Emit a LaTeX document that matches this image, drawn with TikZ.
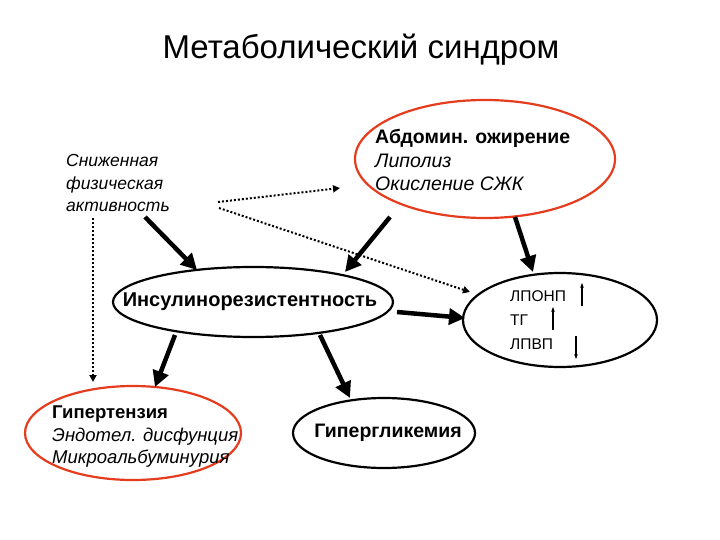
\documentclass[tikz,border=0pt]{standalone}
\usepackage{fontspec}
\setmainfont{Liberation Sans}
\usetikzlibrary{arrows.meta,shapes.geometric}
\definecolor{ovred}{RGB}{230,60,30}
\begin{document}
\begin{tikzpicture}[x=1pt,y=-1pt,
  ell/.style={draw,ellipse,line width=2.2pt,inner sep=0pt},
  redline/.style={draw=ovred},
  thickarr/.style={line width=4.5pt,-{Triangle[length=16pt,width=16pt]}},
  dotarr/.style={line width=2pt,dotted,-{Triangle[length=7pt,width=7pt]}},
  lbl/.style={align=left,anchor=west,inner sep=0pt}]
\useasboundingbox (0,0) rectangle (720,540);
\node (title) at (361,50) {\fontsize{33}{38}\selectfont Метаболический синдром};
\node[ell,redline,minimum width=260pt,minimum height=118pt] (abd) at (485,159) {};
\node[lbl,font=\fontsize{19.5}{23.5}\selectfont] (abdt) at (375,160) {\textbf{Абдомин. ожирение}\\\textit{Липолиз}\\\textit{Окисление СЖК}};
\node[lbl,font=\fontsize{17.5}{22.5}\selectfont\itshape] (phys) at (66,183) {Сниженная\\физическая\\активность};
\node[ell,minimum width=280pt,minimum height=70pt] (insE) at (253,302) {};
\node[font=\fontsize{20}{24}\selectfont\bfseries,inner sep=0pt] (ins) at (250,302) {Инсулинорезистентность};
\node[ell,minimum width=194pt,minimum height=94pt] (lipE) at (560,320) {};
\node[lbl,font=\fontsize{15.5}{24}\selectfont] (lip) at (510,320) {ЛПОНП\\ТГ\\ЛПВП};
\coordinate (u1) at (582,306); \coordinate (v1) at (582,283);
\coordinate (u2) at (553,330); \coordinate (v2) at (553,307);
\coordinate (u3) at (576,336); \coordinate (v3) at (576,359);
\foreach \i in {1,2,3} {\draw[line width=1.2pt,-{Stealth[length=5pt]}] (u\i)--(v\i);}
\node[ell,redline,minimum width=216pt,minimum height=94pt] (hypE) at (133,433) {};
\node[lbl,font=\fontsize{18.5}{22.5}\selectfont] (hyp) at (52,437) {\textbf{Гипертензия}\\\textit{Эндотел. дисфунция}\\\textit{Микроальбуминурия}};
\node[ell,minimum width=182pt,minimum height=70pt] (glyE) at (384,433) {};
\node[font=\fontsize{19.5}{24}\selectfont\bfseries,inner sep=0pt] (gly) at (388,433) {Гипергликемия};
\coordinate (a1) at (145,217); \coordinate (b1) at (197,270);
\coordinate (a2) at (390,217); \coordinate (b2) at (345,272);
\coordinate (a3) at (515,217); \coordinate (b3) at (533,272);
\coordinate (a4) at (397,312); \coordinate (b4) at (465,318);
\coordinate (a5) at (175,335); \coordinate (b5) at (155,387);
\coordinate (a6) at (320,335); \coordinate (b6) at (350,398);
\foreach \i in {1,...,6} {\draw[thickarr] (a\i)--(b\i);}
\coordinate (d1) at (218,202); \coordinate (e1) at (340,188);
\coordinate (d2) at (219,208); \coordinate (e2) at (470,292);
\coordinate (d3) at (93,218); \coordinate (e3) at (93,382);
\foreach \i in {1,2,3} {\draw[dotarr] (d\i)--(e\i);}
\end{tikzpicture}
\end{document}
